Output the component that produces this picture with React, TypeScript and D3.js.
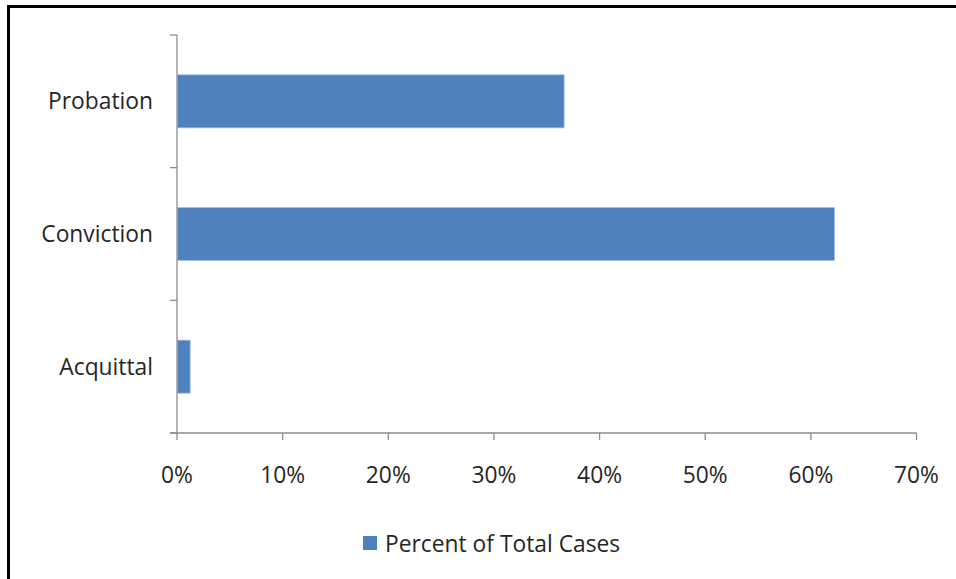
import { useEffect, useRef } from 'react';
import * as d3 from 'd3';

// Chart data
const categories = ['Acquittal', 'Conviction', 'Probation'];
const percentOfCases = [1.2, 62.2, 36.6];
const xTicks = [0, 10, 20, 30, 40, 50, 60, 70];
const seriesName = 'Percent of Total Cases';

const WIDTH = 956;
const HEIGHT = 579;
const FONT = '"Open Sans", "Noto Sans", sans-serif';
const FONT_SIZE = 22.8;
const TEXT_COLOR = '#262626';
const AXIS_COLOR = '#8c8c8c';
const BAR_COLOR = '#4f81bd';

export default function App() {
  const svgRef = useRef<SVGSVGElement>(null);

  useEffect(() => {
    if (!svgRef.current) return;
    const root = d3.select(svgRef.current);
    root.selectAll('*').remove();

    root.append('rect').attr('width', WIDTH).attr('height', HEIGHT).attr('fill', '#fff');

    // outer frame (only left/top edges are in view)
    root
      .append('rect')
      .attr('x', 8.5)
      .attr('y', 6.5)
      .attr('width', WIDTH + 20)
      .attr('height', HEIGHT + 20)
      .attr('fill', 'none')
      .attr('stroke', '#000')
      .attr('stroke-width', 3);

    const plot = { left: 177, right: 916.5, top: 35, bottom: 433 };

    const x = d3.scaleLinear().domain([0, 70]).range([plot.left, plot.right]);
    // categories go bottom -> top
    const y = d3
      .scaleBand<string>()
      .domain([...categories].reverse())
      .range([plot.top, plot.bottom])
      .paddingInner(0.6)
      .paddingOuter(0.3);
    const yTicks = d3
      .scalePoint<number>()
      .domain(d3.range(categories.length + 1))
      .range([plot.top, plot.bottom]);

    // bars
    root
      .append('g')
      .selectAll('rect')
      .data(categories)
      .join('rect')
      .attr('x', x(0) + 0.5)
      .attr('y', (d) => y(d)!)
      .attr('width', (_, i) => x(percentOfCases[i]) - x(0))
      .attr('height', y.bandwidth())
      .attr('fill', BAR_COLOR)
      .attr('stroke', '#a9c2e3')
      .attr('stroke-width', 0.8);

    // y axis
    const yAxis = root.append('g').attr('stroke', AXIS_COLOR).attr('stroke-width', 1.3);
    yAxis
      .append('line')
      .attr('x1', plot.left)
      .attr('x2', plot.left)
      .attr('y1', plot.top)
      .attr('y2', plot.bottom);
    yAxis
      .selectAll('line.tick')
      .data(yTicks.domain())
      .join('line')
      .attr('class', 'tick')
      .attr('x1', plot.left - 7)
      .attr('x2', plot.left)
      .attr('y1', (d) => yTicks(d)!)
      .attr('y2', (d) => yTicks(d)!);

    // x axis
    const xAxis = root.append('g').attr('stroke', AXIS_COLOR).attr('stroke-width', 1.3);
    xAxis
      .append('line')
      .attr('x1', plot.left - 7)
      .attr('x2', plot.right)
      .attr('y1', plot.bottom)
      .attr('y2', plot.bottom);
    xAxis
      .selectAll('line.tick')
      .data(xTicks)
      .join('line')
      .attr('class', 'tick')
      .attr('x1', (d) => x(d))
      .attr('x2', (d) => x(d))
      .attr('y1', plot.bottom)
      .attr('y2', plot.bottom + 7);

    // x tick labels
    root
      .append('g')
      .selectAll('text')
      .data(xTicks)
      .join('text')
      .attr('x', (d) => x(d))
      .attr('y', 483)
      .attr('text-anchor', 'middle')
      .attr('font-family', FONT)
      .attr('font-size', FONT_SIZE)
      .attr('fill', TEXT_COLOR)
      .text((d) => `${d}%`);

    // category labels
    root
      .append('g')
      .selectAll('text')
      .data(categories)
      .join('text')
      .attr('x', 153)
      .attr('y', (d) => y(d)! + y.bandwidth() / 2)
      .attr('dy', '0.35em')
      .attr('text-anchor', 'end')
      .attr('font-family', FONT)
      .attr('font-size', FONT_SIZE)
      .attr('fill', TEXT_COLOR)
      .text((d) => d);

    // legend
    const legend = root.append('g');
    legend
      .append('rect')
      .attr('x', 363)
      .attr('y', 536)
      .attr('width', 14)
      .attr('height', 14)
      .attr('fill', BAR_COLOR);
    legend
      .append('text')
      .attr('x', 385)
      .attr('y', 552)
      .attr('font-family', FONT)
      .attr('font-size', FONT_SIZE)
      .attr('fill', TEXT_COLOR)
      .text(seriesName);
  }, []);

  return (
    <svg
      ref={svgRef}
      width={WIDTH}
      height={HEIGHT}
      style={{ position: 'absolute', left: 0, top: 0, display: 'block' }}
    />
  );
}
